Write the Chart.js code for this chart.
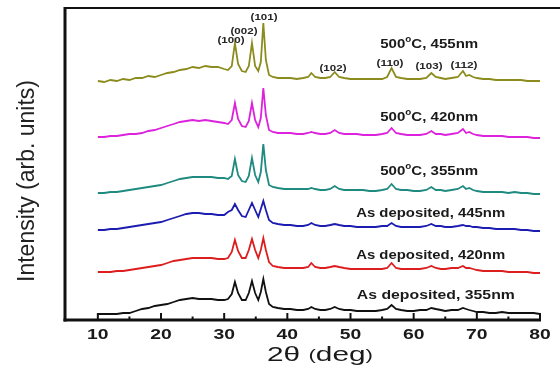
<!DOCTYPE html>
<html>
<head>
<meta charset="utf-8">
<script src="https://cdn.jsdelivr.net/npm/chart.js@4"></script>
<style>
  html, body { margin: 0; padding: 0; background: #fff; }
  #wrap { width: 560px; height: 376px; }
</style>
</head>
<body>
<div id="wrap"><canvas id="c" width="560" height="376"></canvas></div>
<script>
// 2θ sampling positions (deg)
const twoTheta = [
  10,11,12,13,14,15,16,17,18,19,20,21,22,23,24,25,26,27,28,29,30,
  30.6,31.2,31.7,32.2,32.8,33.4,33.9,34.4,34.9,35.4,35.8,36.2,36.6,37.1,37.7,
  38.5,39.5,40.5,41.5,42.5,
  43.3,43.8,44.4,45.2,46,46.8,47.5,48.2,
  49,50,51,52,53,54,55,
  55.8,56.5,57.2,
  58,59,60,61,62,
  62.8,63.5,64.3,
  65,66,67,
  67.8,68.3,68.8,69.4,
  70,71,72,73,74,75,76,77,78,79,80
];

// Intensities (arb. units, vertically offset stacks as in the figure)
const annealed455 = [
  239,238,240,239,241,240,242,242,244,243,245,247,248,250,251,253,252,254,253,253,251,
  250,254,277,256,249,248,254,277,254,249,258,297,260,245,243,
  242,242,242,241,242,
  243,247,243,242,242,243,248,243,
  242,241,241,241,241,241,241,
  243,252,243,
  242,241,241,241,242,
  247,243,242,
  241,242,243,
  249,244,245,243,
  242,241,241,240,240,240,240,240,239,239,239
];
const annealed420 = [
  183,183,184,184,185,186,186,187,189,190,192,194,196,198,199,200,199,200,199,198,197,
  196,200,217,201,194,193,199,217,200,193,202,232,205,190,188,
  187,187,187,186,186,
  187,188,187,186,186,187,190,187,
  186,186,186,185,185,185,186,
  187,192,187,
  186,185,185,185,186,
  189,186,186,
  185,186,187,
  191,187,188,186,
  185,184,184,184,184,183,183,183,183,182,182
];
const annealed355 = [
  127,127,128,128,129,130,131,132,133,134,135,137,139,141,142,143,143,143,143,142,142,
  141,144,161,145,139,138,144,162,145,138,148,176,150,135,133,
  132,131,131,131,131,
  131,132,131,130,130,131,134,131,
  130,130,130,130,129,129,130,
  131,136,131,
  130,130,129,129,130,
  133,130,130,
  129,130,131,
  134,131,132,130,
  129,128,128,128,128,127,128,127,127,126,126
];
const asDep445 = [
  90,90,91,91,92,93,94,95,96,97,98,100,102,104,106,107,107,106,106,105,105,
  108,110,116,110,104,103,110,117,110,103,111,119,110,100,97,
  96,95,95,94,94,
  95,97,95,94,94,95,96,95,
  94,94,93,93,93,93,94,
  94,97,94,
  93,93,93,93,94,
  96,94,94,
  93,93,94,
  95,94,94,93,
  93,92,92,91,91,91,91,90,90,89,89
];
const asDep420 = [
  48,48,48,49,49,50,51,52,53,54,55,57,59,60,61,62,62,62,62,61,61,
  62,68,80,69,62,62,70,81,70,62,70,82,70,58,54,
  53,52,52,52,52,
  53,57,53,52,52,53,54,53,
  52,51,51,51,51,51,51,
  52,57,52,
  51,51,51,51,52,
  54,52,51,
  51,52,52,
  54,52,52,51,
  50,49,49,49,49,48,48,48,48,47,47
];
const asDep355 = [
  6,6,6,6,7,7,9,11,12,14,15,16,18,20,21,22,21,21,21,20,20,
  21,26,38,27,20,20,27,39,27,20,28,41,28,16,13,
  12,11,11,10,10,
  11,13,11,10,10,11,13,11,
  10,10,9,9,9,9,10,
  11,15,11,
  10,9,9,10,10,
  12,11,10,
  9,10,10,
  12,11,10,9,
  8,8,7,7,8,7,7,7,7,7,6
];

const xTicks = [10,20,30,40,50,60,70,80];
const xMinorTicks = [15,25,35,45,55,65,75];
const seriesNames = ['500°C, 455nm','500°C, 420nm','500°C, 355nm','As deposited, 445nm','As deposited, 420nm','As deposited, 355nm'];
const peakLabels = ['(100)','(002)','(101)','(102)','(110)','(103)','(112)'];

const FONT = '"Liberation Sans", Arial, Helvetica, sans-serif';

function toXY(arr) { return arr.map((v, i) => ({ x: twoTheta[i], y: v })); }

// draw segments of text horizontally stretched to a target width
function drawRich(ctx, segs, x, y, targetWidth, align) {
  let w = 0;
  segs.forEach(s => { ctx.font = s.font; s.w = ctx.measureText(s.t).width; w += s.w; });
  const sx = targetWidth ? targetWidth / w : 1;
  ctx.save();
  ctx.translate(x, y);
  ctx.scale(sx, 1);
  let cx = align === 'center' ? -w / 2 : 0;
  ctx.textBaseline = 'alphabetic';
  ctx.textAlign = 'left';
  segs.forEach(s => { ctx.font = s.font; ctx.fillText(s.t, cx, s.dy || 0); cx += s.w; });
  ctx.restore();
}

const decor = {
  id: 'decor',
  afterDraw(chart) {
    const ctx = chart.ctx;
    const xs = chart.scales.x, ys = chart.scales.y;
    const a = chart.chartArea;
    ctx.save();
    ctx.strokeStyle = '#111';
    ctx.fillStyle = '#1a1a1a';
    ctx.lineCap = 'butt';
    // top line
    ctx.lineWidth = 2;
    ctx.beginPath(); ctx.moveTo(a.left - 1, a.top); ctx.lineTo(chart.width, a.top); ctx.stroke();
    // left line
    ctx.lineWidth = 3;
    ctx.beginPath(); ctx.moveTo(a.left, a.top - 1); ctx.lineTo(a.left, a.bottom + 1.5); ctx.stroke();
    // bottom axis
    ctx.beginPath(); ctx.moveTo(a.left - 1.5, a.bottom); ctx.lineTo(xs.getPixelForValue(80) + 1, a.bottom); ctx.stroke();
    // ticks (inward)
    ctx.lineWidth = 2;
    xTicks.forEach(v => { const px = xs.getPixelForValue(v); ctx.beginPath(); ctx.moveTo(px, a.bottom); ctx.lineTo(px, a.bottom - 7); ctx.stroke(); });
    xMinorTicks.forEach(v => { const px = xs.getPixelForValue(v); ctx.beginPath(); ctx.moveTo(px, a.bottom); ctx.lineTo(px, a.bottom - 3.5); ctx.stroke(); });
    // tick labels
    xTicks.forEach(v => {
      drawRich(ctx, [{ t: String(v), font: 'bold 14px ' + FONT }], xs.getPixelForValue(v), a.bottom + 19, 21.5, 'center');
    });
    // x title
    ctx.fillStyle = '#1a1a1a';
    drawRich(ctx, [
      { t: '2θ ', font: '20px ' + FONT },
      { t: '(', font: '15px ' + FONT, dy: -1 },
      { t: 'deg', font: '20px ' + FONT },
      { t: ')', font: '15px ' + FONT, dy: -1 }
    ], 320, 361, 106, 'center');
    // y title
    ctx.save();
    ctx.translate(34, 181);
    ctx.rotate(-Math.PI / 2);
    ctx.font = '23px ' + FONT;
    ctx.textAlign = 'center';
    ctx.textBaseline = 'alphabetic';
    ctx.fillStyle = '#222';
    ctx.fillText('Intensity (arb. units)', 0, 0);
    ctx.restore();

    // series labels
    const sPos = [[54.7, 277, 98], [54.7, 204, 98], [54.7, 150, 98], [50.9, 108, 149], [50.9, 66, 149], [51.0, 26, 158]];
    ctx.fillStyle = '#1a1a1a';
    seriesNames.forEach((name, i) => {
      const [dx, dy, tw] = sPos[i];
      const px = xs.getPixelForValue(dx), py = ys.getPixelForValue(dy) + 5;
      let segs;
      const k = name.indexOf('°');
      if (k >= 0) {
        segs = [
          { t: name.slice(0, k), font: 'bold 13px ' + FONT },
          { t: 'o', font: 'bold 8.5px ' + FONT, dy: -6 },
          { t: name.slice(k + 1), font: 'bold 13px ' + FONT }
        ];
      } else {
        segs = [{ t: name, font: 'bold 13px ' + FONT }];
      }
      drawRich(ctx, segs, px, py, tw, 'left');
    });
    // peak labels
    const pPos = [[31.08, 281], [33.14, 290], [36.31, 304], [47.23, 253], [56.26, 258], [62.43, 255], [67.97, 256]];
    ctx.fillStyle = '#262626';
    peakLabels.forEach((t, i) => {
      const [dx, dy] = pPos[i];
      drawRich(ctx, [{ t, font: 'bold 9.5px ' + FONT }], xs.getPixelForValue(dx), ys.getPixelForValue(dy) + 3.5, 27, 'center');
    });
    ctx.restore();
  }
};

const colors = ['#8c8c1e', '#dc22dc', '#1f8a80', '#1c1cb0', '#dc1e1e', '#111111'];
const seriesData = [annealed455, annealed420, annealed355, asDep445, asDep420, asDep355];

new Chart(document.getElementById('c'), {
  type: 'line',
  data: {
    datasets: seriesData.map((arr, i) => ({
      label: seriesNames[i],
      data: toXY(arr),
      borderColor: colors[i],
      borderWidth: 1.8,
      pointRadius: 0,
      tension: 0,
      fill: false
    }))
  },
  options: {
    responsive: false,
    animation: false,
    devicePixelRatio: 1,
    layout: { padding: { left: 65, right: 20, top: 8, bottom: 56 } },
    plugins: { legend: { display: false }, tooltip: { enabled: false } },
    scales: {
      x: { type: 'linear', min: 4.8, max: 80, display: false },
      y: { type: 'linear', min: 0, max: 312, display: false }
    }
  },
  plugins: [decor]
});
</script>
</body>
</html>
